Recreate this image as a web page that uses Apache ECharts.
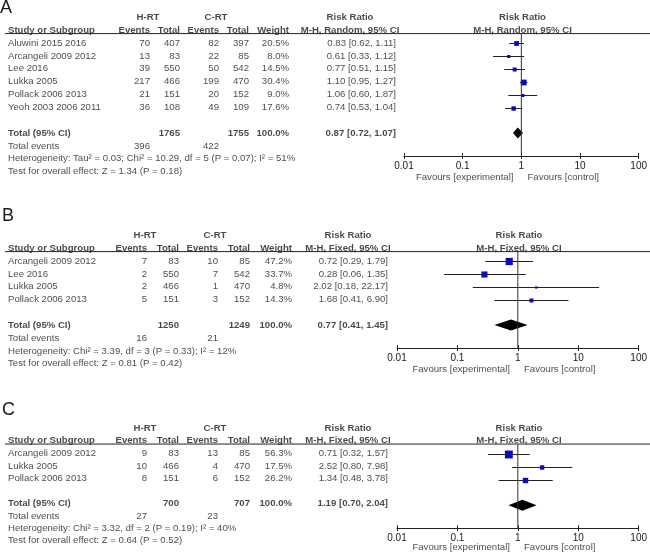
<!DOCTYPE html>
<html><head><meta charset="utf-8">
<script src="https://cdn.jsdelivr.net/npm/echarts@6/dist/echarts.min.js"></script>
<style>html,body{margin:0;padding:0;background:#fff}#c{width:650px;height:557px}</style>
</head><body><div id="c"></div>
<script>
// ---------- Panel A ----------
const studiesA = ['Aluwini 2015 2016','Arcangeli 2009 2012','Lee 2016','Lukka 2005','Pollack 2006 2013','Yeoh 2003 2006 2011'];
const hEventsA = [70,13,39,217,21,36];
const hTotalA  = [407,83,550,466,151,108];
const cEventsA = [82,22,50,199,20,49];
const cTotalA  = [397,85,542,470,152,109];
const weightA  = [20.5,8.0,14.5,30.4,9.0,17.6];
const rrA = [0.83,0.61,0.77,1.10,1.06,0.74];
const loA = [0.62,0.33,0.51,0.95,0.60,0.53];
const hiA = [1.11,1.12,1.15,1.27,1.87,1.04];
const totalsA = [1765,1755];
const totalEventsA = [396,422];
const pooledA = [0.87,0.72,1.07];
const hetA = 'Heterogeneity: Tau² = 0.03; Chi² = 10.29, df = 5 (P = 0.07); I² = 51%';
const testA = 'Test for overall effect: Z = 1.34 (P = 0.18)';

// ---------- Panel B ----------
const studiesB = ['Arcangeli 2009 2012','Lee 2016','Lukka 2005','Pollack 2006 2013'];
const hEventsB = [7,2,2,5];
const hTotalB  = [83,550,466,151];
const cEventsB = [10,7,1,3];
const cTotalB  = [85,542,470,152];
const weightB  = [47.2,33.7,4.8,14.3];
const rrB = [0.72,0.28,2.02,1.68];
const loB = [0.29,0.06,0.18,0.41];
const hiB = [1.79,1.35,22.17,6.90];
const totalsB = [1250,1249];
const totalEventsB = [16,21];
const pooledB = [0.77,0.41,1.45];
const hetB = 'Heterogeneity: Chi² = 3.39, df = 3 (P = 0.33); I² = 12%';
const testB = 'Test for overall effect: Z = 0.81 (P = 0.42)';

// ---------- Panel C ----------
const studiesC = ['Arcangeli 2009 2012','Lukka 2005','Pollack 2006 2013'];
const hEventsC = [9,10,8];
const hTotalC  = [83,466,151];
const cEventsC = [13,4,6];
const cTotalC  = [85,470,152];
const weightC  = [56.3,17.5,26.2];
const rrC = [0.71,2.52,1.34];
const loC = [0.32,0.80,0.48];
const hiC = [1.57,7.98,3.78];
const totalsC = [700,707];
const totalEventsC = [27,23];
const pooledC = [1.19,0.70,2.04];
const hetC = 'Heterogeneity: Chi² = 3.32, df = 2 (P = 0.19); I² = 40%';
const testC = 'Test for overall effect: Z = 0.64 (P = 0.52)';

const tickLabels = ['0.01','0.1','1','10','100'];

// ---------- layout / style ----------
const FONT = '"Liberation Sans", Arial, Helvetica, sans-serif';
const TXT = '#1a1a1a';
const BLUE = '#0a0ab8';
const FS = 9.6;
const PITCH = 12.9;
const XR = 641;

const panels = [
  {letter:'A', lTop:-1, lLeft:0, model:'Random', s:studiesA, he:hEventsA, ht:hTotalA, ce:cEventsA, ct:cTotalA, w:weightA, rr:rrA, lo:loA, hi:hiA,
   tot:totalsA, ev:totalEventsA, pool:pooledA, het:hetA, test:testA, row0:43, x0:404, cols:[150,180,219,249,289,396], hrt:148, crt:216, rrc:350},
  {letter:'B', lTop:207, lLeft:2, model:'Fixed', s:studiesB, he:hEventsB, ht:hTotalB, ce:cEventsB, ct:cTotalB, w:weightB, rr:rrB, lo:loB, hi:hiB,
   tot:totalsB, ev:totalEventsB, pool:pooledB, het:hetB, test:testB, row0:261, x0:397, cols:[147,179,218,250,292,388], hrt:145, crt:215, rrc:348},
  {letter:'C', lTop:401, lLeft:2, model:'Fixed', s:studiesC, he:hEventsC, ht:hTotalC, ce:cEventsC, ct:cTotalC, w:weightC, rr:rrC, lo:loC, hi:hiC,
   tot:totalsC, ev:totalEventsC, pool:pooledC, het:hetC, test:testC, row0:454, x0:397, cols:[147,179,218,250,292,388], hrt:145, crt:215, rrc:348}
];

const grid = [], xAxis = [], yAxis = [], series = [], title = [];
const f2 = v => v.toFixed(2);
const rrText = (r,l,h) => f2(r) + ' [' + f2(l) + ', ' + f2(h) + ']';

panels.forEach((p, k) => {
  const n = p.s.length;
  const totRow = n - 1 + 1.97;
  const evRow = totRow + 1.05;
  const hetRow = totRow + 2.0;
  const testRow = totRow + 2.95;
  const axisRow = totRow + 1.78;
  const favRow = axisRow + 1.67;
  const ruleRow = -1 + 3.5 / PITCH;
  const tMin = -2.7, tMax = favRow + 0.8;
  const plotC = (p.x0 + XR) / 2;

  title.push({text:p.letter, left:p.lLeft, top:p.lTop, padding:0,
    textStyle:{fontSize:18, fontWeight:'normal', color:TXT, fontFamily:FONT}});

  const gT = 2*k, gP = 2*k+1;
  grid.push({left:0, width:650, top:p.row0 + tMin*PITCH, height:(tMax - tMin)*PITCH});
  grid.push({left:p.x0, width:XR - p.x0, top:p.row0 + ruleRow*PITCH, height:(axisRow - ruleRow)*PITCH});

  const xiT = xAxis.length;
  xAxis.push({type:'value', gridIndex:gT, min:0, max:650, show:false});
  const xiP = xAxis.length;
  xAxis.push({type:'log', logBase:10, gridIndex:gP, min:0.01, max:100, position:'bottom',
    axisLine:{show:true, onZero:false, lineStyle:{color:'#222', width:1}},
    axisTick:{show:true, length:3, lineStyle:{color:'#222', width:1}},
    axisLabel:{show:true, fontSize:10, color:TXT, fontFamily:FONT, margin:5,
      formatter: v => tickLabels[Math.round(Math.log10(v)) + 2]},
    splitLine:{show:false}});
  xAxis.push({type:'log', logBase:10, gridIndex:gP, min:0.01, max:100, position:'bottom',
    axisLine:{show:false, onZero:false}, axisTick:{show:true, inside:true, length:3, lineStyle:{color:'#222', width:1}},
    axisLabel:{show:false}, splitLine:{show:false}});
  const yiT = yAxis.length;
  yAxis.push({type:'value', gridIndex:gT, min:tMin, max:tMax, inverse:true, show:false});
  const yiP = yAxis.length;
  yAxis.push({type:'value', gridIndex:gP, min:ruleRow, max:axisRow, inverse:true, show:false});

  const items = [];
  const add = (x, row, txt, align, bold) => items.push({
    value:[x, row], txt:String(txt),
    label:{position: align === 'left' ? 'right' : (align === 'right' ? 'left' : 'inside'),
           fontWeight: bold ? 'bold' : 'normal'}
  });
  const c = p.cols;
  add(p.hrt, -2, 'H-RT', 'center', true);
  add(p.crt, -2, 'C-RT', 'center', true);
  add(p.rrc, -2, 'Risk Ratio', 'center', true);
  add(plotC, -2, 'Risk Ratio', 'center', true);
  add(8, -1, 'Study or Subgroup', 'left', true);
  add(c[0], -1, 'Events', 'right', true);
  add(c[1], -1, 'Total', 'right', true);
  add(c[2], -1, 'Events', 'right', true);
  add(c[3], -1, 'Total', 'right', true);
  add(c[4], -1, 'Weight', 'right', true);
  const mh = 'M-H, ' + p.model + ', 95% CI';
  add(p.rrc, -1, mh, 'center', true);
  add(plotC, -1, mh, 'center', true);
  p.s.forEach((name, i) => {
    add(8, i, name, 'left', false);
    add(c[0], i, p.he[i], 'right', false);
    add(c[1], i, p.ht[i], 'right', false);
    add(c[2], i, p.ce[i], 'right', false);
    add(c[3], i, p.ct[i], 'right', false);
    add(c[4], i, p.w[i].toFixed(1) + '%', 'right', false);
    add(c[5], i, rrText(p.rr[i], p.lo[i], p.hi[i]), 'right', false);
  });
  add(8, totRow, 'Total (95% CI)', 'left', true);
  add(c[1], totRow, p.tot[0], 'right', true);
  add(c[3], totRow, p.tot[1], 'right', true);
  add(c[4], totRow, '100.0%', 'right', true);
  add(c[5], totRow, rrText(p.pool[0], p.pool[1], p.pool[2]), 'right', true);
  add(8, evRow, 'Total events', 'left', false);
  add(c[0], evRow, p.ev[0], 'right', false);
  add(c[2], evRow, p.ev[1], 'right', false);
  add(8, hetRow, p.het, 'left', false);
  add(8, testRow, p.test, 'left', false);
  add(plotC - 9, favRow, 'Favours [experimental]', 'right', false);
  add(plotC + 5, favRow, 'Favours [control]', 'left', false);

  series.push({type:'scatter', xAxisIndex:xiT, yAxisIndex:yiT, symbolSize:0, silent:true, animation:false,
    data:items,
    label:{show:true, distance:0, color:TXT, fontSize:FS, fontFamily:FONT, formatter: q => q.data.txt}});

  series.push({type:'line', xAxisIndex:xiT, yAxisIndex:yiT, symbol:'none', silent:true, animation:false,
    lineStyle:{color:'#222', width:1}, data:[[5, ruleRow],[650, ruleRow]]});

  series.push({type:'line', xAxisIndex:xiP, yAxisIndex:yiP, symbol:'none', silent:true, animation:false,
    lineStyle:{color:'#333', width:1}, data:[[1, ruleRow],[1, axisRow]]});

  series.push({type:'custom', xAxisIndex:xiP, yAxisIndex:yiP, silent:true, animation:false,
    data: p.s.map((_, i) => [p.lo[i], p.hi[i], p.rr[i], i, p.w[i]]),
    renderItem: (params, api) => {
      const a = api.coord([api.value(0), api.value(3)]);
      const b = api.coord([api.value(1), api.value(3)]);
      const m = api.coord([api.value(2), api.value(3)]);
      const s = Math.max(2, Math.sqrt(api.value(4)) * 1.05);
      const y = Math.round(a[1]) + 0.5;
      return {type:'group', children:[
        {type:'line', shape:{x1:a[0], y1:y, x2:b[0], y2:y}, style:{stroke:'#222', lineWidth:1}},
        {type:'rect', shape:{x:m[0]-s/2, y:y-s/2, width:s, height:s}, style:{fill:BLUE}}
      ]};
    }});

  series.push({type:'custom', xAxisIndex:xiP, yAxisIndex:yiP, silent:true, animation:false,
    data:[[p.pool[1], p.pool[2], p.pool[0], totRow]],
    renderItem: (params, api) => {
      const l = api.coord([api.value(0), api.value(3)]);
      const r = api.coord([api.value(1), api.value(3)]);
      const m = api.coord([api.value(2), api.value(3)]);
      const h = 5.5;
      return {type:'polygon', shape:{points:[[l[0], l[1]],[m[0], m[1]-h],[r[0], r[1]],[m[0], m[1]+h]]},
        style:{fill:'#000'}};
    }});
});

const chart = echarts.init(document.getElementById('c'), null, {renderer:'canvas'});
chart.setOption({animation:false, backgroundColor:'#fff', title, grid, xAxis, yAxis, series});
</script></body></html>
